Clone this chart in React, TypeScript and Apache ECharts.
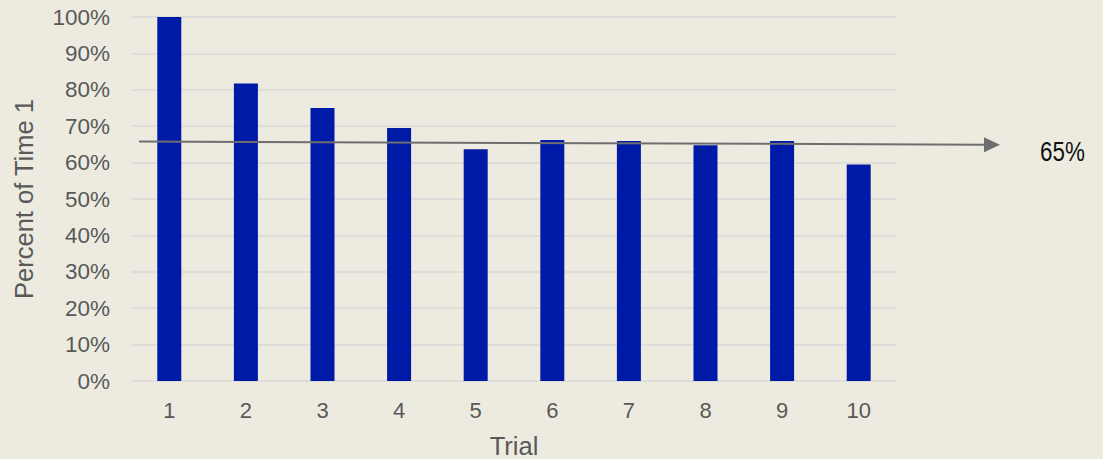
import React, { useEffect, useRef } from "react";
import * as echarts from "echarts";

// Trial number on the x axis
const trials = ["1", "2", "3", "4", "5", "6", "7", "8", "9", "10"];
// Completion time as a percent of the first trial
const percentOfTime1 = [100, 81.7, 75.0, 69.5, 63.7, 66.2, 65.9, 64.8, 65.9, 59.5];
// Trend arrow: start and end level (percent)
const trendLevels = [65.8, 64.9];
const trendLabel = "65%";

const BG = "#EDEBE0";
const TEXT = "#595959";
const FONT = "'Liberation Sans', Arial, sans-serif";

export default function App() {
  const ref = useRef<HTMLDivElement>(null);

  useEffect(() => {
    document.body.style.margin = "0";
    document.body.style.background = BG;
    if (!ref.current) return;
    const chart = echarts.init(ref.current, null, { renderer: "svg" });
    const gridLeft = 131;
    const gridRight = 206;
    chart.setOption({
      animation: false,
      backgroundColor: BG,
      grid: {
        left: gridLeft,
        right: gridRight,
        top: 17,
        bottom: 78,
        outerBoundsMode: "none",
      },
      xAxis: {
        type: "category",
        data: trials,
        name: "Trial",
        nameLocation: "middle",
        nameGap: 52,
        nameTextStyle: { color: TEXT, fontSize: 25.5, fontFamily: FONT },
        axisLine: { show: false },
        axisTick: { show: false },
        axisLabel: { color: TEXT, fontSize: 22, fontFamily: FONT, margin: 18 },
      },
      yAxis: {
        type: "value",
        min: 0,
        max: 100,
        interval: 10,
        name: "Percent of Time 1",
        nameLocation: "middle",
        nameGap: 94,
        nameTextStyle: { color: TEXT, fontSize: 25.5, fontFamily: FONT },
        axisLine: { show: false },
        axisTick: { show: false },
        axisLabel: {
          color: TEXT,
          fontSize: 22.5,
          fontFamily: FONT,
          margin: 21,
          formatter: "{value}%",
        },
        splitLine: { lineStyle: { color: "#D9D9D9", width: 1.5 } },
      },
      series: [
        {
          type: "bar",
          data: percentOfTime1,
          barWidth: 24,
          itemStyle: { color: "#001AA8" },
          silent: true,
        },
      ],
    });

    // Trend arrow drawn over the bars, extending past the plot to its label
    const y0 = chart.convertToPixel({ yAxisIndex: 0 }, trendLevels[0]) as number;
    const y1 = chart.convertToPixel({ yAxisIndex: 0 }, trendLevels[1]) as number;
    const x0 = gridLeft + 8;
    const xTip = 1000;
    const headLen = 16;
    const headHalf = 7.5;
    const xBase = xTip - headLen;
    const yBase = y0 + ((y1 - y0) * (xBase - x0)) / (xTip - x0);
    chart.setOption({
      graphic: [
        {
          type: "line",
          shape: { x1: x0, y1: y0, x2: xBase + 2, y2: yBase },
          style: { stroke: "#6E6E6E", lineWidth: 2 },
          z: 100,
        },
        {
          type: "polygon",
          shape: {
            points: [
              [xTip, y1],
              [xBase, yBase - headHalf],
              [xBase, yBase + headHalf],
            ],
          },
          style: { fill: "#6E6E6E" },
          z: 100,
        },
        {
          type: "text",
          x: 1040,
          y: y1 + 6,
          scaleX: 0.8,
          style: {
            text: trendLabel,
            fill: "#111111",
            font: "28px 'Liberation Sans', Arial, sans-serif",
            verticalAlign: "middle",
            align: "left",
          },
          z: 100,
        },
      ],
    });

    return () => chart.dispose();
  }, []);

  return <div ref={ref} style={{ width: 1103, height: 459 }} />;
}
